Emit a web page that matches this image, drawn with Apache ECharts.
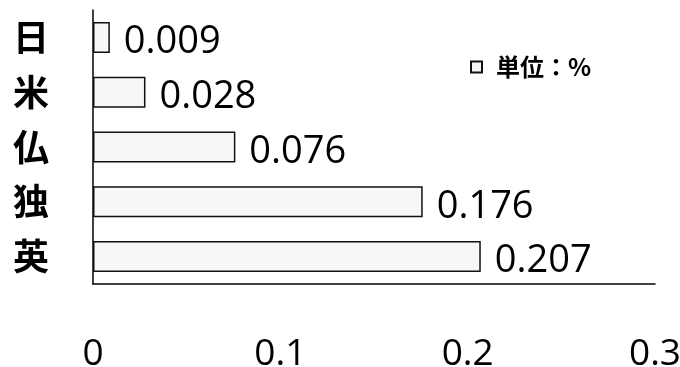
<!DOCTYPE html>
<html>
<head>
<meta charset="utf-8">
<script src="https://cdn.jsdelivr.net/npm/echarts@6/dist/echarts.min.js"></script>
<style>
  html, body { margin: 0; padding: 0; background: #fff; }
  #main { width: 680px; height: 367px; }
</style>
</head>
<body>
<div id="main"></div>
<script>
var countries = ["日", "米", "仏", "独", "英"];
var shares = [0.009, 0.028, 0.076, 0.176, 0.207];
var xTicks = [0, 0.1, 0.2, 0.3];
var unitName = "単位：%";

var chartDom = document.getElementById("main");
var myChart = echarts.init(chartDom);
var option;

option = {
  animation: false,
  backgroundColor: "#fff",
  legend: {
    data: [unitName],
    left: 465,
    top: 50,
    itemWidth: 11,
    itemHeight: 11,
    icon: "rect",
    textStyle: {
      fontFamily: "Noto Sans CJK JP",
      fontWeight: "bold",
      fontSize: 24,
      color: "#000",
      padding: [0, 0, 0, 9],
    },
  },
  grid: {
    left: 93,
    right: 25,
    top: 10,
    bottom: 83,
    outerBoundsMode: "none",
  },
  xAxis: {
    type: "value",
    min: xTicks[0],
    max: xTicks[xTicks.length - 1],
    interval: 0.1,
    axisLine: { show: true, lineStyle: { color: "#000", width: 1.5 } },
    axisTick: { show: false },
    splitLine: { show: false },
    axisLabel: {
      margin: 52,
      fontFamily: "Open Sans",
      fontSize: 37,
      color: "#000",
    },
  },
  yAxis: {
    type: "category",
    inverse: true,
    data: countries,
    axisLine: { show: true, lineStyle: { color: "#000", width: 1.5 } },
    axisTick: { show: false },
    axisLabel: {
      margin: 44,
      fontFamily: "Noto Sans CJK JP",
      fontWeight: "bold",
      fontSize: 36,
      color: "#000",
    },
  },
  series: [
    {
      name: unitName,
      type: "bar",
      data: shares,
      barWidth: 31,
      itemStyle: {
        color: "#f7f7f7",
        borderColor: "#111",
        borderWidth: 1.5,
      },
      label: {
        show: true,
        position: "right",
        distance: 14,
        offset: [0, 5],
        fontFamily: "Open Sans",
        fontSize: 38,
        color: "#000",
        formatter: function (p) {
          return p.value.toFixed(3);
        },
      },
    },
  ],
};

option && myChart.setOption(option);
</script>
</body>
</html>
